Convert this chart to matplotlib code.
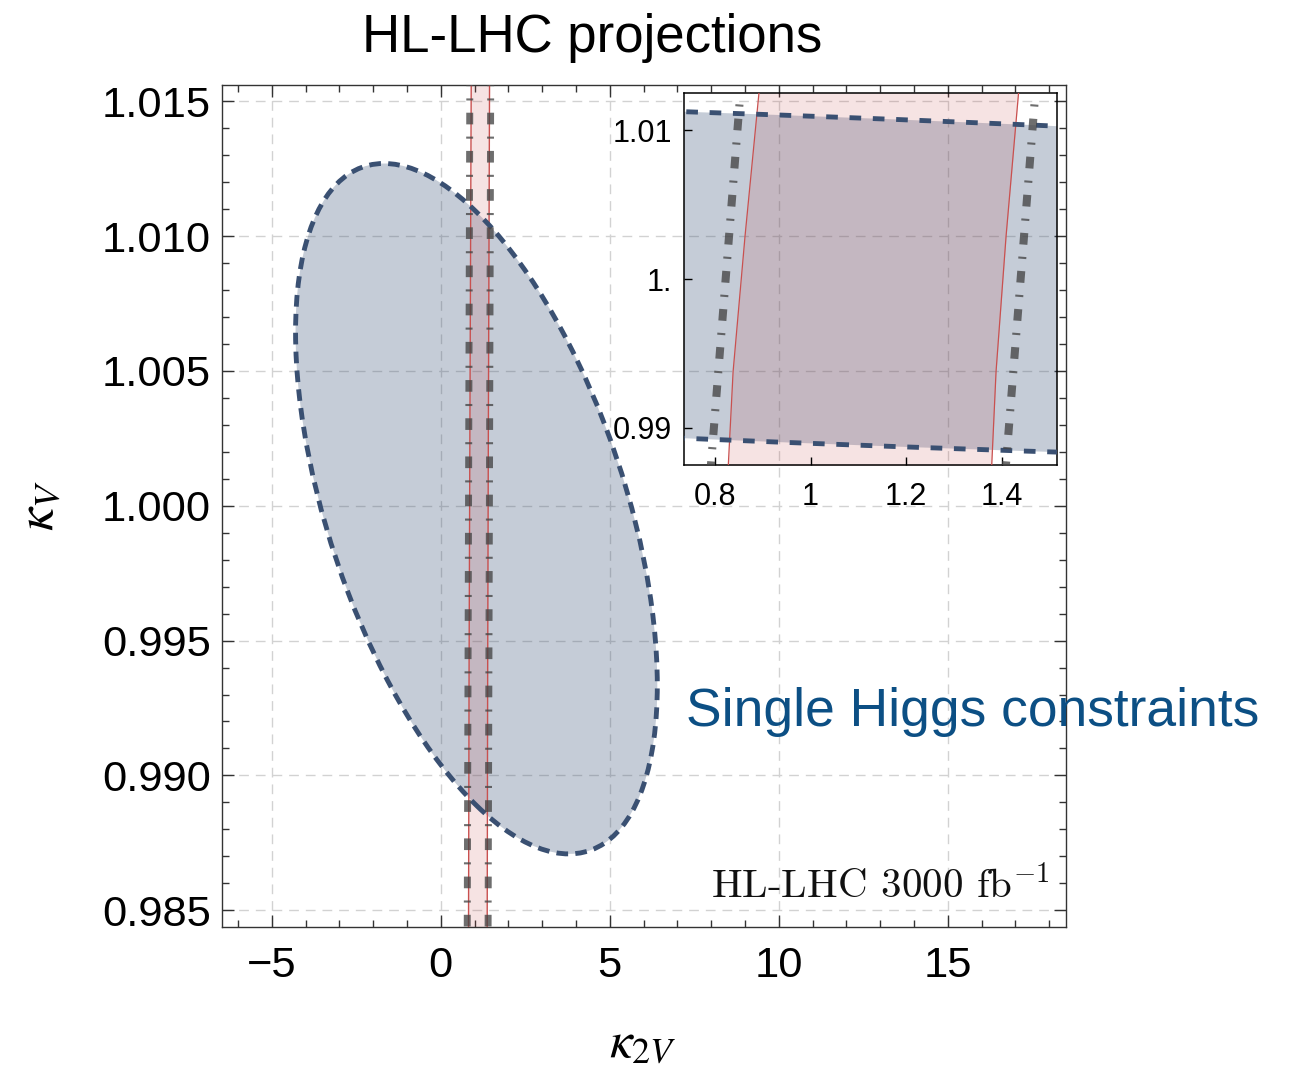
import numpy as np
import matplotlib
matplotlib.use('Agg')
import matplotlib.pyplot as plt
from matplotlib.patches import Circle
from matplotlib.transforms import Affine2D
from matplotlib.ticker import MultipleLocator

plt.rcParams['font.family'] = ['Liberation Sans', 'DejaVu Sans']
plt.rcParams['mathtext.fontset'] = 'stix'
plt.rcParams['lines.scale_dashes'] = False

# ---------------- data ----------------
# single-Higgs constraint ellipse in (k2V, kV)
ellipse_center = [1.056, 0.99989]
ellipse_halfwidth = [5.35, 0.0128]
ellipse_corr = -0.511

# red band (solid red edges)
band_kv = [0.9844, 0.98752, 0.99379, 1.00291, 1.0125, 1.0157]
band_left = [0.822, 0.828, 0.838, 0.863, 0.892, 0.902]
band_right = [1.374, 1.379, 1.388, 1.409, 1.435, 1.444]

# grey dot-dashed lines
dd_kv = [0.9844, 1.0157]
dd_left = [0.784, 0.861]
dd_right = [1.401, 1.478]

main_xticks = [-5, 0, 5, 10, 15]
main_yticks = [0.985, 0.990, 0.995, 1.000, 1.005, 1.010, 1.015]
inset_xticks = [0.8, 1.0, 1.2, 1.4]
inset_xticklabels = ['0.8', '1', '1.2', '1.4']
inset_yticks = [0.99, 1.0, 1.01]
inset_yticklabels = ['0.99', '1.', '1.01']

NAVY_FILL = '#3a5276'
NAVY_EDGE = '#3a5072'
RED = '#c9504f'
PINK = '#c34444'
GREY = '#454545'


def draw_contents(ax, blue_dash, lw_red, lw_grey):
    cx, cy = ellipse_center
    sx, sy = ellipse_halfwidth
    r = ellipse_corr
    M = Affine2D(np.array([[sx, 0.0, cx],
                           [r * sy, np.sqrt(1 - r * r) * sy, cy],
                           [0.0, 0.0, 1.0]]))
    ax.add_patch(Circle((0, 0), 1, transform=M + ax.transData,
                        facecolor=NAVY_FILL, alpha=0.29, edgecolor='none', zorder=1))
    ax.fill_betweenx(band_kv, band_left, band_right, color=PINK, alpha=0.15,
                     lw=0, zorder=1.5)
    ax.plot(band_left, band_kv, color=RED, lw=lw_red, zorder=3)
    ax.plot(band_right, band_kv, color=RED, lw=lw_red, zorder=3)
    ax.add_patch(Circle((0, 0), 1, transform=M + ax.transData, fill=False,
                        edgecolor=NAVY_EDGE, lw=3.5, linestyle=(0, blue_dash),
                        capstyle='butt', zorder=3.5))
    for xs in (dd_left, dd_right):
        ax.plot(xs, dd_kv, color=GREY, alpha=0.78, lw=lw_grey,
                dashes=(8.4, 8.8, 1.5, 8.8), dash_capstyle='butt', zorder=4)


fig = plt.figure(figsize=(12.9, 10.72), dpi=100)

# ---------------- main axes ----------------
ax = fig.add_axes([0.17209, 0.13526, 0.65388, 0.78545])
ax.set_xlim(-6.47, 18.48)
ax.set_ylim(0.98438, 1.0156)
draw_contents(ax, (8.4, 5.2), 1.0, 5.0)

ax.set_xticks(main_xticks)
ax.set_xticklabels([f'{v:d}'.replace('-', '\u2212') for v in main_xticks])
ax.set_yticks(main_yticks)
ax.set_yticklabels([f'{v:.3f}' for v in main_yticks])
ax.xaxis.set_minor_locator(MultipleLocator(1))
ax.yaxis.set_minor_locator(MultipleLocator(0.001))
ax.tick_params(which='both', direction='in', top=True, right=True,
               width=1.0, color='#333333')
ax.tick_params(which='major', length=8.6, labelsize=31.3)
ax.tick_params(which='minor', length=5.0)
ax.tick_params(axis='x', which='major', pad=14)
ax.tick_params(axis='y', which='major', pad=8)
for s in ax.spines.values():
    s.set_color('#333333')
    s.set_linewidth(1.0)
ax.set_axisbelow(True)
ax.grid(True, which='major', color='#d2d2d2', lw=1.0, linestyle=(0, (7, 5)))

ax.text(0.9816, 0.034, 'HL-LHC 3000 fb$^{-1}$', transform=ax.transAxes,
        ha='right', va='baseline', fontsize=29.5, family='cmr10',
        math_fontfamily='cm', color='#111111', zorder=6)

# ---------------- inset ----------------
ins = fig.add_axes([0.5305, 0.56623, 0.2887, 0.34674], facecolor='none')
ins.set_xlim(0.736, 1.515)
ins.set_ylim(0.9875, 1.0125)
draw_contents(ins, (8.4, 8.4), 0.9, 5.8)
ins.set_xticks(inset_xticks)
ins.set_xticklabels(inset_xticklabels)
ins.set_yticks(inset_yticks)
ins.set_yticklabels(inset_yticklabels)
ins.tick_params(which='both', direction='in', length=6, width=1.0,
                labelsize=22, color='black')
ins.tick_params(axis='x', pad=12)
ins.tick_params(axis='y', pad=9)
for s in ins.spines.values():
    s.set_color('black')
    s.set_linewidth(1.1)

# ---------------- texts ----------------
fig.text(0.4591, 0.9518, 'HL-LHC projections', ha='center', va='baseline',
         fontsize=38, color='black')
fig.text(0.5318, 0.3228, 'Single Higgs constraints', ha='left', va='baseline',
         fontsize=38.4, color='#0c4f84')
fig.text(0.031, 0.528, r'$\kappa_V$', rotation=90, ha='center', va='center',
         fontsize=38)
fig.text(0.498, 0.027, r'$\kappa_{2V}$', ha='center', va='center', fontsize=37)

fig.savefig('out.png', dpi=100)
